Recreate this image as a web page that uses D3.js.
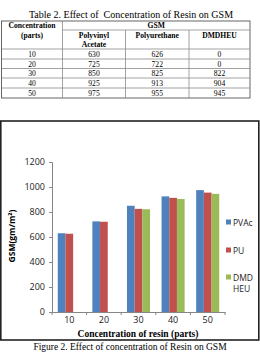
<!DOCTYPE html>
<html>
<head>
<meta charset="utf-8">
<script src="https://cdn.jsdelivr.net/npm/d3@7"></script>
<style>
  body { margin: 0; background: #fff; }
  svg { display: block; }
</style>
</head>
<body>
<div id="chart"></div>
<script>
const width = 260;
const height = 353;

const concentrations = ["10", "20", "30", "40", "50"];
const seriesNames = ["PVAc", "PU", "DMDHEU"];
const legendLabels = [["PVAc"], ["PU"], ["DMD", "HEU"]];
const pvac = [630, 725, 850, 925, 975];
const pu = [626, 722, 825, 913, 955];
const dmdheu = [0, 0, 822, 904, 945];
const yTicks = [0, 200, 400, 600, 800, 1000, 1200];
const colors = ["#4F81BD", "#C0504D", "#9BBB59"];

const serif = "'Liberation Serif', 'Times New Roman', serif";
const sans = "'Open Sans', 'Liberation Sans', sans-serif";

var svg = d3.select("#chart").append("svg")
    .attr("width", width)
    .attr("height", height);

// ---------- table ----------
svg.append("text")
    .attr("x", 131)
    .attr("y", 17.5)
    .attr("text-anchor", "middle")
    .style("font-family", serif)
    .style("font-size", "10px")
    .text("Table 2. Effect of\u00A0 Concentration of Resin on GSM");

var colX = [1.5, 62.5, 125.5, 189, 250];
var rowY = [49, 59, 68.5, 78, 88, 98];
var tableTop = 21;
var lineColor = "#8a8a8a";

// outer box
svg.append("rect")
    .attr("x", colX[0]).attr("y", tableTop)
    .attr("width", colX[4] - colX[0]).attr("height", rowY[5] - tableTop)
    .attr("fill", "none").attr("stroke", "#555").attr("stroke-width", 0.9);

// vertical lines
svg.append("line").attr("x1", colX[1]).attr("x2", colX[1]).attr("y1", tableTop).attr("y2", rowY[5])
    .attr("stroke", lineColor).attr("stroke-width", 0.8);
[colX[2], colX[3]].forEach(x => {
    svg.append("line").attr("x1", x).attr("x2", x).attr("y1", 30).attr("y2", rowY[5])
        .attr("stroke", lineColor).attr("stroke-width", 0.8);
});
// horizontal lines
svg.append("line").attr("x1", colX[1]).attr("x2", colX[4]).attr("y1", 30).attr("y2", 30)
    .attr("stroke", lineColor).attr("stroke-width", 0.8);
rowY.slice(0, 5).forEach(y => {
    svg.append("line").attr("x1", colX[0]).attr("x2", colX[4]).attr("y1", y).attr("y2", y)
        .attr("stroke", lineColor).attr("stroke-width", 0.8);
});

function cellText(x, y, txt, bold) {
    svg.append("text")
        .attr("x", x).attr("y", y)
        .attr("text-anchor", "middle")
        .attr("dominant-baseline", "central")
        .style("font-family", serif)
        .style("font-size", "7.6px")
        .style("font-weight", bold ? "bold" : "normal")
        .text(txt);
}
cellText((colX[0] + colX[1]) / 2, 25.5, "Concentration", true);
cellText((colX[0] + colX[1]) / 2, 35, "(parts)", true);
cellText((colX[1] + colX[4]) / 2, 25.5, "GSM", true);
cellText((colX[1] + colX[2]) / 2, 35, "Polyvinyl", true);
cellText((colX[1] + colX[2]) / 2, 44, "Acetate", true);
cellText((colX[2] + colX[3]) / 2, 35, "Polyurethane", true);
cellText((colX[3] + colX[4]) / 2, 35, "DMDHEU", true);

concentrations.forEach((c, i) => {
    var cy = (rowY[i] + rowY[i + 1]) / 2 + 0.3;
    cellText((colX[0] + colX[1]) / 2, cy, c, false);
    cellText((colX[1] + colX[2]) / 2, cy, pvac[i], false);
    cellText((colX[2] + colX[3]) / 2, cy, pu[i], false);
    cellText((colX[3] + colX[4]) / 2, cy, dmdheu[i], false);
});

// ---------- chart frame ----------
svg.append("rect")
    .attr("x", 0.8).attr("y", 121)
    .attr("width", 258).attr("height", 219)
    .attr("fill", "#fff")
    .attr("stroke", "#222")
    .attr("stroke-width", 1.6);

var x0 = d3.scaleBand()
    .domain(concentrations)
    .range([52, 225]);

var bw = x0.bandwidth() / 4.5;
var x1 = d3.scaleBand()
    .domain(seriesNames)
    .range([bw * 0.75, x0.bandwidth() - bw * 0.75]);

var y = d3.scaleLinear()
    .domain([0, 1200])
    .range([312, 162]);

var seriesData = [pvac, pu, dmdheu];

// bars
seriesNames.forEach((s, si) => {
    svg.append("g")
        .selectAll("rect")
        .data(seriesData[si])
        .enter()
        .append("rect")
        .attr("x", (d, i) => x0(concentrations[i]) + x1(s))
        .attr("y", d => y(d))
        .attr("width", x1.bandwidth())
        .attr("height", d => y(0) - y(d))
        .attr("fill", colors[si]);
});

// y axis
var yAxis = svg.append("g")
    .attr("transform", "translate(52,0)")
    .call(d3.axisLeft(y).tickValues(yTicks).tickFormat(d3.format("d")).tickSize(3).tickPadding(4));
yAxis.select(".domain").attr("stroke", "#868686");
yAxis.selectAll(".tick line").attr("stroke", "#868686");
yAxis.selectAll("text")
    .style("font-family", sans)
    .style("font-size", "9px")
    .attr("fill", "#222");

// x axis
var xAxis = svg.append("g")
    .attr("transform", "translate(0," + y(0) + ")")
    .call(d3.axisBottom(x0).tickSize(0).tickPadding(5));
xAxis.select(".domain").attr("stroke", "#868686");
xAxis.selectAll("text")
    .style("font-family", sans)
    .style("font-size", "9px")
    .attr("fill", "#222");
// tick marks between categories
xAxis.selectAll(".sep")
    .data(concentrations.concat(["end"]))
    .enter()
    .append("line")
    .attr("class", "sep")
    .attr("x1", (d, i) => i < concentrations.length ? x0(d) : x0.range()[1])
    .attr("x2", (d, i) => i < concentrations.length ? x0(d) : x0.range()[1])
    .attr("y1", 0)
    .attr("y2", 3)
    .attr("stroke", "#868686");

// axis titles
svg.append("text")
    .attr("transform", "translate(15,236) rotate(-90)")
    .attr("text-anchor", "middle")
    .style("font-family", sans)
    .style("font-size", "8.5px")
    .style("font-weight", "bold")
    .text("GSM(gm/m\u00B2)");

svg.append("text")
    .attr("x", 138)
    .attr("y", 337)
    .attr("text-anchor", "middle")
    .style("font-family", serif)
    .style("font-size", "9.5px")
    .style("font-weight", "bold")
    .text("Concentration of resin (parts)");

// legend
var legendY = [222, 250, 277];
legendLabels.forEach((lines, i) => {
    svg.append("rect")
        .attr("x", 226)
        .attr("y", legendY[i] - 2.5)
        .attr("width", 5)
        .attr("height", 5)
        .attr("fill", colors[i]);
    lines.forEach((t, j) => {
        svg.append("text")
            .attr("x", 233)
            .attr("y", legendY[i] + j * 11)
            .attr("dominant-baseline", "central")
            .style("font-family", sans)
            .style("font-size", "8.5px")
            .attr("fill", "#222")
            .text(t);
    });
});

// caption
svg.append("text")
    .attr("x", 130)
    .attr("y", 350)
    .attr("text-anchor", "middle")
    .style("font-family", serif)
    .style("font-size", "9.5px")
    .text("Figure 2. Effect of concentration of Resin on GSM");
</script>
</body>
</html>
